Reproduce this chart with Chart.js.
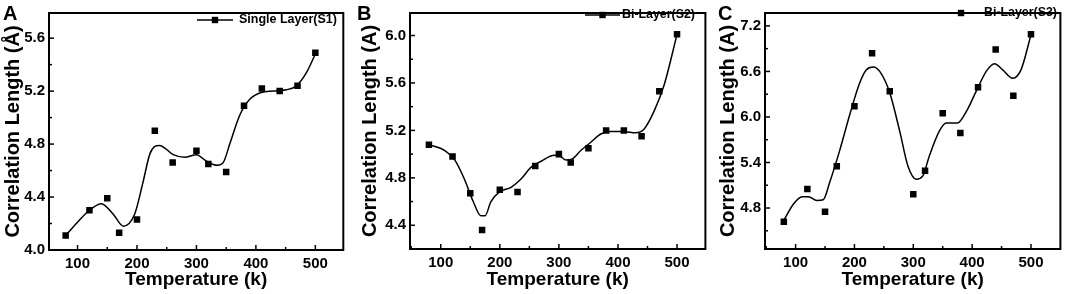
<!DOCTYPE html>
<html>
<head>
<meta charset="utf-8">
<script src="https://cdn.jsdelivr.net/npm/chart.js@4"></script>
<style>
    body { margin: 0; background: #fff; }
    #wrap { position: relative; width: 1065px; height: 294px; }
    canvas { position: absolute; top: 0; }
</style>
</head>
<body>
<div id="wrap">
    <canvas id="chartA" width="355" height="294" style="left:0"></canvas>
    <canvas id="chartB" width="355" height="294" style="left:355px"></canvas>
    <canvas id="chartC" width="355" height="294" style="left:710px"></canvas>
</div>
<script>
// Temperature (k) of the measured points
const temps = [80, 120, 150, 170, 200, 230, 260, 300, 320, 350, 380, 410, 440, 470, 500];

// Correlation length (Å) of the measured points
const s1 = [4.11, 4.30, 4.39, 4.13, 4.23, 4.90, 4.66, 4.75, 4.65, 4.59, 5.09, 5.22, 5.20, 5.24, 5.49];
const s2 = [5.08, 4.98, 4.67, 4.36, 4.70, 4.68, 4.90, 5.00, 4.93, 5.05, 5.20, 5.20, 5.15, 5.53, 6.01];
const s3 = [4.62, 5.05, 4.75, 5.35, 6.14, 6.84, 6.34, 4.98, 5.29, 6.05, 5.79, 6.39, 6.89, 6.28, 7.09];

// Smooth fitted curves
const fitT1 = [80, 100, 120, 140, 160, 177, 196, 210, 222, 238, 261, 280, 300, 317, 335, 345, 356, 373, 390, 409, 429, 451, 468, 485, 500];
const fit1 = [4.11, 4.21, 4.30, 4.35, 4.27, 4.18, 4.27, 4.51, 4.73, 4.79, 4.72, 4.70, 4.72, 4.67, 4.64, 4.66, 4.80, 5.02, 5.14, 5.19, 5.20, 5.21, 5.24, 5.34, 5.48];

const fitT2 = [80, 107, 124, 140, 155, 168, 175, 185, 199, 219, 236, 253, 270, 292, 303, 312, 323, 337, 354, 371, 388, 410, 430, 444, 461, 478, 500];
const fit2 = [5.08, 5.03, 4.95, 4.79, 4.60, 4.48, 4.48, 4.60, 4.68, 4.72, 4.79, 4.89, 4.94, 4.99, 4.98, 4.95, 4.96, 5.03, 5.10, 5.17, 5.19, 5.19, 5.18, 5.21, 5.36, 5.58, 6.01];

const fitT3 = [80, 97, 111, 122, 136, 147, 158, 175, 192, 209, 220, 232, 243, 260, 277, 291, 305, 316, 327, 344, 356, 375, 390, 407, 424, 438, 452, 469, 483, 500];
const fit3 = [4.64, 4.86, 4.95, 4.95, 4.90, 4.91, 5.14, 5.56, 6.03, 6.45, 6.62, 6.66, 6.60, 6.32, 5.81, 5.35, 5.18, 5.22, 5.48, 5.81, 5.92, 5.92, 6.07, 6.34, 6.60, 6.70, 6.62, 6.51, 6.62, 7.08];

// Tick labels
const xTicks = [100, 200, 300, 400, 500];
const yTicks1 = [4.0, 4.4, 4.8, 5.2, 5.6];
const yTicks2 = [4.4, 4.8, 5.2, 5.6, 6.0];
const yTicks3 = [4.8, 5.4, 6.0, 6.6, 7.2];

const FONT = "'Liberation Sans', Arial, sans-serif";

// frame, inward ticks, panel letter and legend
const decoPlugin = {
    id: "deco",
    afterDraw(chart) {
        const o = chart.options.plugins.deco;
        const ctx = chart.ctx;
        const a = chart.chartArea;
        const xs = chart.scales.x;
        const ys = chart.scales.y;

        ctx.save();
        ctx.strokeStyle = "#000";
        ctx.lineWidth = 2;
        ctx.strokeRect(a.left, a.top, a.right - a.left, a.bottom - a.top);

        ctx.lineWidth = 1.5;
        const drawTicks = (scale, horiz) => {
            const vals = scale.ticks.map(t => t.value);
            const step = vals[1] - vals[0];
            const minor = [vals[0] - step / 2];
            vals.forEach(v => minor.push(v + step / 2));
            const all = vals.map(v => [v, 5]).concat(
                minor.filter(v => v > scale.min && v < scale.max).map(v => [v, 3]));
            all.forEach(([v, len]) => {
                const p = scale.getPixelForValue(v);
                ctx.beginPath();
                if (horiz) {
                    ctx.moveTo(p, a.bottom);
                    ctx.lineTo(p, a.bottom - len);
                } else {
                    ctx.moveTo(a.left, p);
                    ctx.lineTo(a.left + len, p);
                }
                ctx.stroke();
            });
        };
        drawTicks(xs, true);
        drawTicks(ys, false);

        // panel letter
        ctx.fillStyle = "#000";
        ctx.font = "bold 20px " + FONT;
        ctx.textBaseline = "alphabetic";
        ctx.fillText(o.letter, o.letterX, 20);

        // legend
        ctx.lineWidth = 1.5;
        ctx.beginPath();
        ctx.moveTo(o.lineX0, o.legY);
        ctx.lineTo(o.lineX1, o.legY);
        ctx.stroke();
        const m = (o.lineX0 + o.lineX1) / 2;
        ctx.fillRect(m - 3.2, o.legY - 3.2, 6.4, 6.4);
        ctx.font = o.legFont + " " + FONT;
        ctx.textBaseline = "middle";
        ctx.fillText(o.legText, o.textX, o.legY);
        ctx.restore();
    }
};

function makeChart(id, vals, fitT, fit, yTicks, cfg) {

    const points = temps.map((t, i) => ({ x: t, y: vals[i] }));
    const curve = fitT.map((t, i) => ({ x: t, y: fit[i] }));

    return new Chart(document.getElementById(id), {
        type: "scatter",
        data: {
            datasets: [
                {
                    data: curve,
                    showLine: true,
                    borderColor: "#000",
                    borderWidth: 1.5,
                    pointRadius: 0,
                    cubicInterpolationMode: "monotone"
                },
                {
                    data: points,
                    pointStyle: "rect",
                    pointRadius: 4.6,
                    backgroundColor: "#000",
                    borderColor: "#000",
                    borderWidth: 0
                }
            ]
        },
        options: {
            responsive: false,
            animation: false,
            devicePixelRatio: 1,
            layout: {
                padding: { left: 0, top: 4, bottom: 0, right: cfg.padRight }
            },
            plugins: {
                legend: { display: false },
                tooltip: { enabled: false },
                deco: cfg.deco
            },
            scales: {
                x: {
                    type: "linear",
                    min: cfg.xMin,
                    max: cfg.xMax,
                    grid: { display: false, drawTicks: false },
                    border: { display: false },
                    afterBuildTicks: s => { s.ticks = xTicks.map(v => ({ value: v })); },
                    ticks: {
                        padding: 5,
                        color: "#000",
                        font: { family: FONT, size: 15, weight: "bold" },
                        maxRotation: 0,
                        autoSkip: false
                    },
                    title: {
                        display: true,
                        text: "Temperature (k)",
                        color: "#000",
                        font: { family: FONT, size: 19, weight: "bold" },
                        padding: { top: 0, bottom: 2.6 }
                    },
                    afterFit: s => { s.height = cfg.xHeight; }
                },
                y: {
                    min: cfg.yMin,
                    max: cfg.yMax,
                    grid: { display: false, drawTicks: false },
                    border: { display: false },
                    afterBuildTicks: s => { s.ticks = yTicks.map(v => ({ value: v })); },
                    ticks: {
                        padding: 4,
                        color: "#000",
                        font: { family: FONT, size: 15, weight: "bold" },
                        autoSkip: false,
                        callback: v => v.toFixed(1)
                    },
                    title: {
                        display: true,
                        text: cfg.yTitle,
                        color: "#000",
                        font: { family: FONT, size: 20, weight: "bold" },
                        padding: { top: cfg.yTitlePad, bottom: 0 }
                    },
                    afterFit: s => { s.width = cfg.yWidth; }
                }
            }
        },
        plugins: [decoPlugin]
    });
}

makeChart("chartA", s1, fitT1, fit1, yTicks1, {
    xMin: 52, xMax: 547, yMin: 4.0, yMax: 5.79,
    yWidth: 49, xHeight: 44, padRight: 11.7, yTitlePad: 1.3,
    yTitle: "Correlation Length (Å)",
    deco: { letter: "A", letterX: 3, lineX0: 197, lineX1: 233, textX: 239, legY: 20,
            legText: "Single Layer(S1)", legFont: "bold 12.5px" }
});

makeChart("chartB", s2, fitT2, fit2, yTicks2, {
    xMin: 48, xMax: 548, yMin: 4.2, yMax: 6.19,
    yWidth: 55, xHeight: 45, padRight: 3.4, yTitlePad: 3,
    yTitle: "Correlation Length (A)",
    deco: { letter: "B", letterX: 2, lineX0: 230, lineX1: 265, textX: 267, legY: 15,
            legText: "Bi-Layer(S2)", legFont: "bold 12.4px" }
});

makeChart("chartC", s3, fitT3, fit3, yTicks3, {
    xMin: 48, xMax: 550, yMin: 4.26, yMax: 7.37,
    yWidth: 55, xHeight: 45, padRight: 1.7, yTitlePad: 6.7,
    yTitle: "Correlation Length (A)",
    deco: { letter: "C", letterX: 8, lineX0: 233, lineX1: 269, textX: 274, legY: 13,
            legText: "Bi-Layer(S3)", legFont: "bold 12.4px" }
});
</script>
</body>
</html>
